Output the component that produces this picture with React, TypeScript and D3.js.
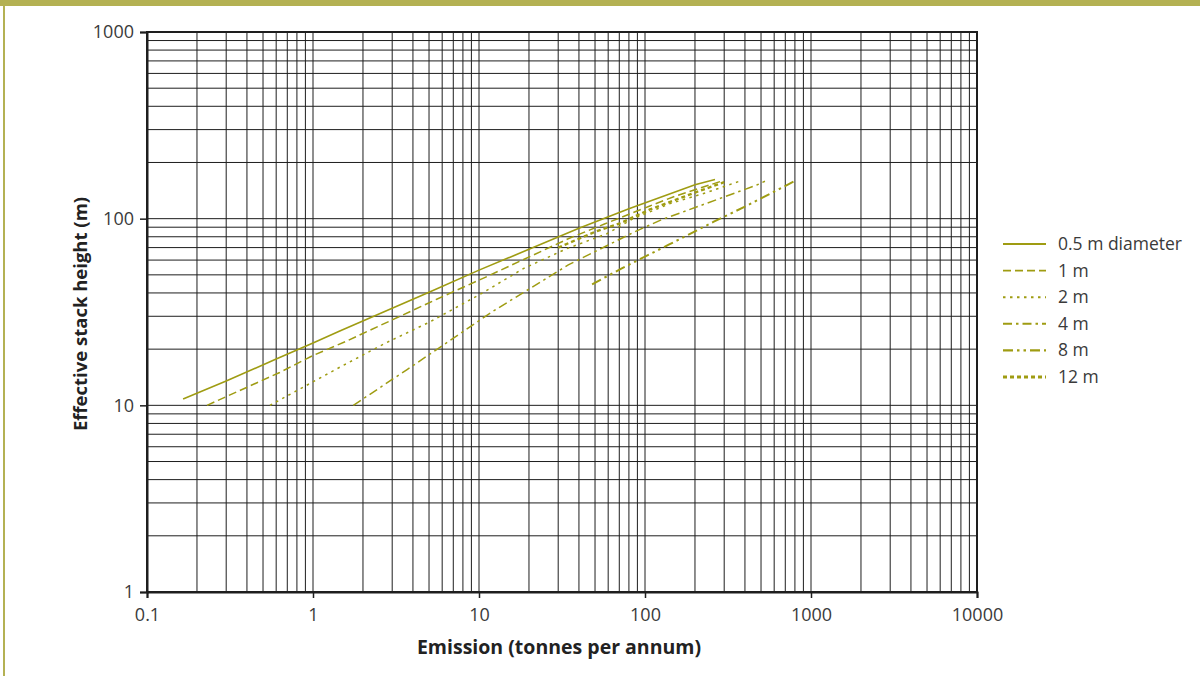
import React, { useEffect, useRef } from 'react';
import * as d3 from 'd3';

// series: [emission (t/a), effective stack height (m)]
const d05: [number, number][] = [
  [0.165, 10.8], [0.3, 13.5], [0.6, 17.7], [1, 21.6], [1.45, 25], [5, 40.3],
  [10, 53], [20, 68.5], [40, 88.8], [80, 113], [200, 152], [264, 162],
];
const d1: [number, number][] = [
  [0.23, 10], [0.63, 15], [1, 18.5], [1.56, 21.9], [5.56, 37], [10.9, 48.5],
  [35, 78.5], [57, 93.6], [107, 117], [152, 132], [296, 160],
];
const d2: [number, number][] = [
  [0.55, 10], [1.45, 16], [2.72, 21.5], [5.07, 28], [10.5, 40], [18.5, 54],
  [33.7, 69], [58.8, 83], [85, 100], [140, 120], [235, 138], [373, 159],
];
const d4: [number, number][] = [
  [1.75, 10], [3.67, 15.5], [12.2, 32], [34.5, 56.5], [87, 85.2], [126, 98.8],
  [235, 120.8], [471, 151.4], [528, 158.6],
];
const d8: [number, number][] = [
  [48, 44.5], [72, 54], [91, 60], [138, 72.3], [258, 96], [400, 116], [820, 161],
];
const d12: [number, number][] = [
  [30, 70], [50, 85], [70.7, 94.4], [107, 112], [200, 138], [300, 157],
];

const seriesNames = ['0.5 m diameter', '1 m', '2 m', '4 m', '8 m', '12 m'];
const seriesData = [d05, d1, d2, d4, d8, d12];
const dashes = ['none', '8,4', '2.5,4.5', '9,4,2.5,4', '10,4,2.5,4,2.5,4', '4,3'];
const widths = [1.6, 1.5, 1.5, 1.5, 2, 2.4];

const xTickLabels = [0.1, 1, 10, 100, 1000, 10000];
const yTickLabels = [1, 10, 100, 1000];

const LINE = '#9f9c12';
const FRAME = '#b4b153';
const FONT = "'Open Sans', 'Noto Sans', sans-serif";

export default function App() {
  const svgRef = useRef<SVGSVGElement>(null);

  useEffect(() => {
    if (!svgRef.current) return;
    const svg = d3.select(svgRef.current);
    svg.selectAll('*').remove();

    const x = d3.scaleLog().domain([0.1, 10000]).range([147, 977]);
    const y = d3.scaleLog().domain([1, 1000]).range([592, 32]);

    // frame
    svg.append('rect').attr('x', 0).attr('y', 0).attr('width', 1200).attr('height', 6).attr('fill', FRAME);
    svg.append('rect').attr('x', 3).attr('y', 0).attr('width', 2).attr('height', 676).attr('fill', FRAME);

    // grid
    const grid = svg.append('g').attr('stroke', '#1e1e1e').attr('stroke-width', 1);
    grid.selectAll('.vx')
      .data(x.ticks())
      .enter()
      .append('line')
      .attr('x1', d => x(d)).attr('x2', d => x(d))
      .attr('y1', y(1000)).attr('y2', y(1));
    grid.selectAll('.hy')
      .data(y.ticks())
      .enter()
      .append('line')
      .attr('y1', d => y(d)).attr('y2', d => y(d))
      .attr('x1', x(0.1)).attr('x2', x(10000));

    svg.append('rect')
      .attr('x', x(0.1)).attr('y', y(1000))
      .attr('width', x(10000) - x(0.1)).attr('height', y(1) - y(1000))
      .attr('fill', 'none').attr('stroke', '#1e1e1e').attr('stroke-width', 2);

    // axes
    const xAxis = d3.axisBottom(x).tickValues(xTickLabels).tickSize(6).tickPadding(10)
      .tickFormat(d => String(d));
    const gx = svg.append('g').attr('transform', `translate(0,${y(1)})`).call(xAxis);
    gx.select('.domain').attr('stroke', '#1e1e1e').attr('stroke-width', 2);
    gx.selectAll('.tick line').attr('stroke', '#1e1e1e').attr('stroke-width', 1.5);
    gx.selectAll('text').attr('font-family', FONT).attr('font-size', 18).attr('fill', '#3a3a3a');

    const yAxis = d3.axisLeft(y).tickValues(yTickLabels).tickSize(7).tickPadding(6)
      .tickFormat(d => String(d));
    const gy = svg.append('g').attr('transform', `translate(${x(0.1)},0)`).call(yAxis);
    gy.select('.domain').attr('stroke', '#1e1e1e').attr('stroke-width', 2);
    gy.selectAll('.tick line').attr('stroke', '#1e1e1e').attr('stroke-width', 1.5);
    gy.selectAll('text').attr('font-family', FONT).attr('font-size', 18).attr('fill', '#3a3a3a');

    // axis titles
    svg.append('text')
      .attr('x', 559).attr('y', 654)
      .attr('text-anchor', 'middle')
      .attr('font-family', FONT).attr('font-weight', 'bold').attr('font-size', 19.5)
      .attr('fill', '#222')
      .text('Emission (tonnes per annum)');
    svg.append('text')
      .attr('transform', 'translate(87,314) rotate(-90)')
      .attr('text-anchor', 'middle')
      .attr('font-family', FONT).attr('font-weight', 'bold').attr('font-size', 18.5)
      .attr('fill', '#222')
      .text('Effective stack height (m)');

    // series
    const line = d3.line<[number, number]>().x(d => x(d[0])).y(d => y(d[1]));
    svg.append('g').selectAll('path')
      .data(seriesData)
      .enter()
      .append('path')
      .attr('d', d => line(d))
      .attr('fill', 'none')
      .attr('stroke', LINE)
      .attr('stroke-width', (_, i) => widths[i])
      .attr('stroke-dasharray', (_, i) => dashes[i]);

    // legend
    const leg = svg.append('g').attr('transform', 'translate(1003,244)');
    const row = leg.selectAll('g')
      .data(seriesNames)
      .enter()
      .append('g')
      .attr('transform', (_, i) => `translate(0,${i * 26.6})`);
    row.append('line')
      .attr('x1', 0).attr('x2', 43).attr('y1', 0).attr('y2', 0)
      .attr('stroke', LINE)
      .attr('stroke-width', (_, i) => widths[i] + 0.4)
      .attr('stroke-dasharray', (_, i) => dashes[i]);
    row.append('text')
      .attr('x', 55).attr('y', 6)
      .attr('font-family', FONT).attr('font-size', 17.5)
      .attr('fill', '#3a3a3a')
      .text(d => d);
  }, []);

  return (
    <div style={{ position: 'fixed', left: 0, top: 0 }}>
      <svg ref={svgRef} width={1200} height={676} style={{ display: 'block', background: '#fff' }} />
    </div>
  );
}
